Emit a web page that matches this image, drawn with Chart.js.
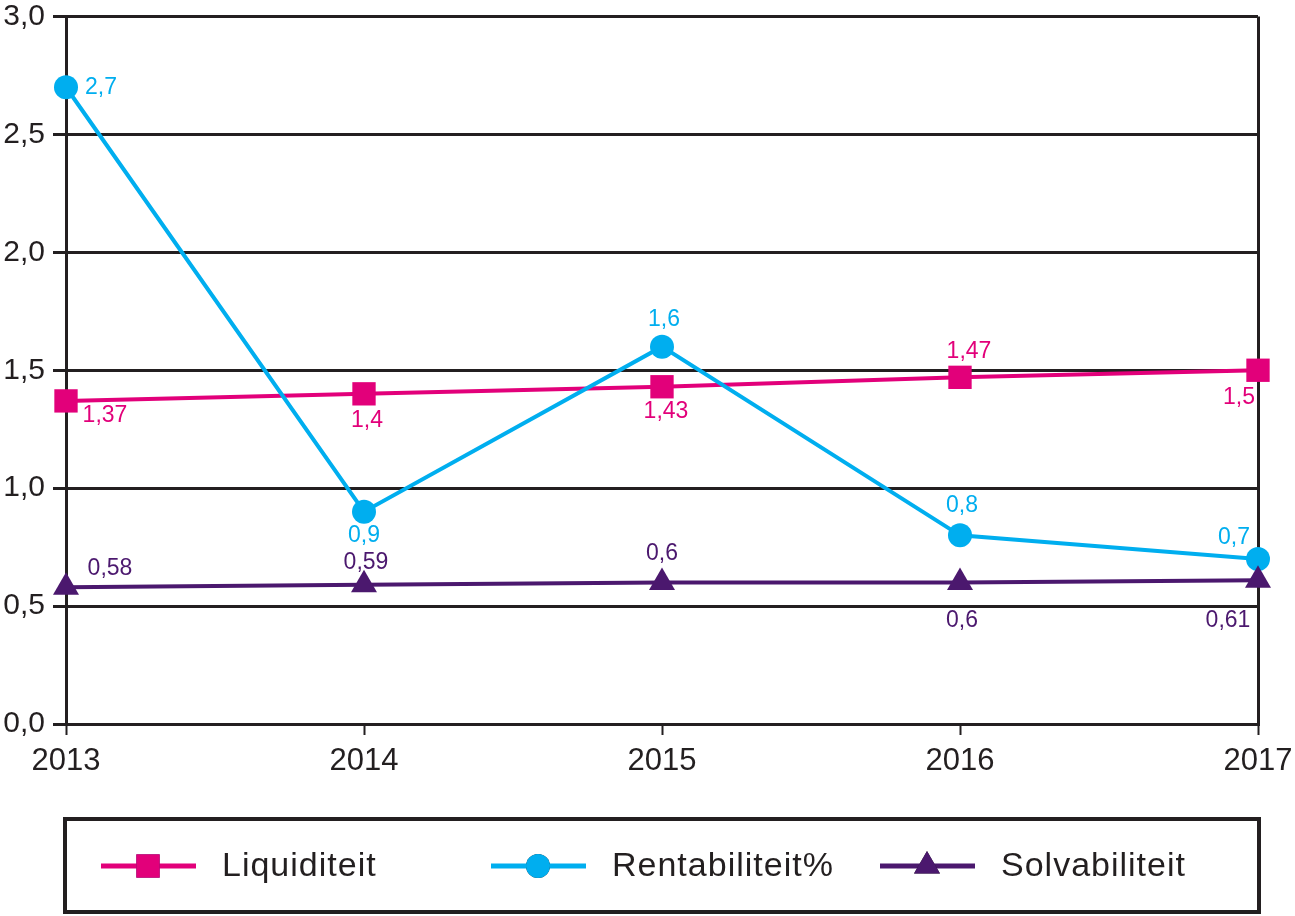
<!DOCTYPE html>
<html>
<head>
<meta charset="utf-8">
<script src="https://cdn.jsdelivr.net/npm/chart.js@4/dist/chart.umd.min.js"></script>
<style>
  html, body { margin: 0; padding: 0; background: #fff; }
  #wrap { width: 1295px; height: 916px; position: relative; }
</style>
</head>
<body>
<div id="wrap"><canvas id="chart" width="1295" height="916"></canvas></div>
<script>
// Data
const years = ['2013', '2014', '2015', '2016', '2017'];
const liquiditeit = [1.37, 1.4, 1.43, 1.47, 1.5];
const rentabiliteit = [2.7, 0.9, 1.6, 0.8, 0.7];
const solvabiliteit = [0.58, 0.59, 0.6, 0.6, 0.61];
const seriesNames = ['Liquiditeit', 'Rentabiliteit%', 'Solvabiliteit'];

// Label placement (offset from the point, px)
const liqLabelPos = [[39, 15], [3, 27], [4, 25], [9, -26], [-19, 27]];
const rentLabelPos = [[35, 0], [0, 24], [2, -27], [2, -30], [-24, -21]];
const solvLabelPos = [[44, -19], [2, -22], [0, -29], [2, 38], [-30, 41]];

const INK = '#231F20';
const PINK = '#E2007A';
const CYAN = '#00AEEF';
const PURPLE = '#4B186E';
const FONT = '"Liberation Sans", Arial, sans-serif';

const fmt = (v, digits) => v.toFixed(digits).replace('.', ',');
const fmtLabel = (v) => String(v).replace('.', ',');

// draws value labels next to every point
const valueLabels = {
    id: 'valueLabels',
    afterDatasetsDraw(chart) {
        const ctx = chart.ctx;
        ctx.save();
        ctx.font = '23px ' + FONT;
        ctx.textAlign = 'center';
        ctx.textBaseline = 'middle';
        chart.data.datasets.forEach((ds, i) => {
            const meta = chart.getDatasetMeta(i);
            meta.data.forEach((pt, j) => {
                const off = ds.labelPos[j];
                ctx.fillStyle = ds.borderColor;
                ctx.fillText(fmtLabel(ds.data[j]), pt.x + off[0], pt.y + off[1]);
            });
        });
        ctx.restore();
    }
};

// boxed legend under the plot, line + marker + name
const boxLegend = {
    id: 'boxLegend',
    afterDraw(chart) {
        const ctx = chart.ctx;
        const area = chart.chartArea;
        const top = 819;
        const bottom = 912;
        const midY = 866;
        const starts = [101, 491, 880];
        ctx.save();
        ctx.strokeStyle = INK;
        ctx.lineWidth = 4;
        ctx.strokeRect(area.left - 1, top, area.right - area.left + 2, bottom - top);

        ctx.font = '34px ' + FONT;
        ctx.textBaseline = 'middle';
        ctx.textAlign = 'left';
        if ('letterSpacing' in ctx) ctx.letterSpacing = '1px';
        chart.data.datasets.forEach((ds, i) => {
            const x0 = starts[i];
            ctx.strokeStyle = ds.borderColor;
            ctx.lineWidth = 5;
            ctx.beginPath();
            ctx.moveTo(x0, midY);
            ctx.lineTo(x0 + 95, midY);
            ctx.stroke();
            Chart.helpers.drawPoint(ctx, {
                pointStyle: ds.pointStyle,
                radius: ds.pointRadius,
                borderWidth: 0
            }, x0 + 47, midY);
            ctx.fillStyle = ds.borderColor;
            ctx.fill();
            ctx.fillStyle = INK;
            ctx.fillText(seriesNames[i], x0 + 121, midY + 1);
        });
        ctx.restore();
    }
};

const makeSet = (label, data, color, style, radius, labelPos, order) => ({
    label,
    data,
    borderColor: color,
    backgroundColor: color,
    pointBackgroundColor: color,
    pointBorderWidth: 0,
    pointStyle: style,
    pointRadius: radius,
    pointHoverRadius: radius,
    borderWidth: 4,
    tension: 0,
    clip: false,
    order,
    labelPos
});

new Chart(document.getElementById('chart'), {
    type: 'line',
    data: {
        labels: years,
        datasets: [
            makeSet(seriesNames[0], liquiditeit, PINK, 'rect', 16.5, liqLabelPos, 3),
            makeSet(seriesNames[1], rentabiliteit, CYAN, 'circle', 12, rentLabelPos, 2),
            makeSet(seriesNames[2], solvabiliteit, PURPLE, 'triangle', 15, solvLabelPos, 1)
        ]
    },
    options: {
        responsive: false,
        animation: false,
        events: [],
        layout: { padding: { top: 15, right: 37, bottom: 132, left: 0 } },
        plugins: { legend: { display: false }, tooltip: { enabled: false } },
        scales: {
            x: {
                offset: false,
                grid: {
                    color: (c) => (c.index === 0 || c.index === years.length - 1) ? INK : 'rgba(0,0,0,0)',
                    lineWidth: 3,
                    tickColor: INK,
                    tickWidth: 2,
                    tickLength: 11
                },
                border: { color: INK, width: 3 },
                ticks: {
                    color: INK,
                    font: { family: FONT, size: 31 },
                    padding: 8,
                    maxRotation: 0
                },
                afterFit: (s) => {
                    s.height = 60;
                    s.paddingLeft = 0;
                    s.paddingRight = 0;
                }
            },
            y: {
                min: 0,
                max: 3,
                grid: {
                    color: INK,
                    lineWidth: 3,
                    tickColor: INK,
                    tickLength: 13
                },
                border: { color: INK, width: 3 },
                ticks: {
                    stepSize: 0.5,
                    color: INK,
                    font: { family: FONT, size: 30 },
                    padding: 8,
                    callback: (v) => fmt(v, 1)
                },
                afterFit: (s) => {
                    s.width = 66;
                    s.paddingTop = 0;
                    s.paddingBottom = 0;
                }
            }
        }
    },
    plugins: [valueLabels, boxLegend]
});
</script>
</body>
</html>
